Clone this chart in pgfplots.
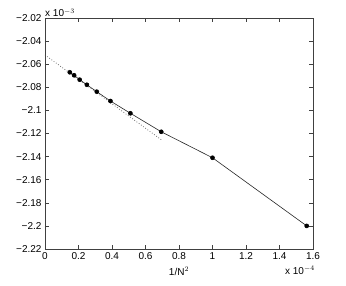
\documentclass[border=0pt]{standalone}
\usepackage{fontspec}
\setmainfont{Liberation Sans}
\usepackage{pgfplots}
\pgfplotsset{compat=1.18}
\usetikzlibrary{calc}
\begin{document}
\begin{tikzpicture}
\begin{axis}[
  scale only axis, width=268pt, height=231pt,
  xmin=0, xmax=1.6, ymin=-2.22, ymax=-2.02,
  xtick={0,0.2,...,1.6}, ytick={-2.22,-2.2,...,-2.02},
  xticklabels={0,0.2,0.4,0.6,0.8,1,1.2,1.4,1.6},
  yticklabels={−2.22,−2.2,−2.18,−2.16,−2.14,−2.12,−2.1,−2.08,−2.06,−2.04,−2.02},
  tick align=inside, major tick length=4pt,
  axis line style={black!75, line width=0.5pt},
  tick style={black!75, line width=0.5pt},
  tick label style={font=\fontsize{10}{11}\selectfont},
  xlabel={1/N$^2$}, xlabel style={font=\fontsize{10}{11}\selectfont, yshift=-1pt},
  clip=false]
\addplot[black!70, dotted, line width=0.7pt] coordinates {(0,-2.052)(0.70,-2.126)};
\addplot[black!85, line width=0.6pt, mark=*, mark size=2pt, mark options={fill=black, draw=black}] coordinates {
(0.148,-2.0670)(0.174,-2.0696)(0.207,-2.0734)(0.250,-2.0778)(0.309,-2.0838)
(0.391,-2.0919)(0.510,-2.1025)(0.694,-2.1185)(1.000,-2.1410)(1.5625,-2.2000)};
\node[anchor=south west, inner sep=0pt, font=\fontsize{10}{11}\selectfont] at (rel axis cs:0,1) [yshift=1pt] {x 10$^{-3}$};
\node[anchor=north east, inner sep=0pt, font=\fontsize{10}{11}\selectfont] at (rel axis cs:1,0) [yshift=-17pt, xshift=2pt] {x 10$^{-4}$};
\end{axis}
\useasboundingbox ($(current axis.south west)+(-45pt,-36pt)$) rectangle ($(current axis.north east)+(33pt,18pt)$);
\end{tikzpicture}
\end{document}
